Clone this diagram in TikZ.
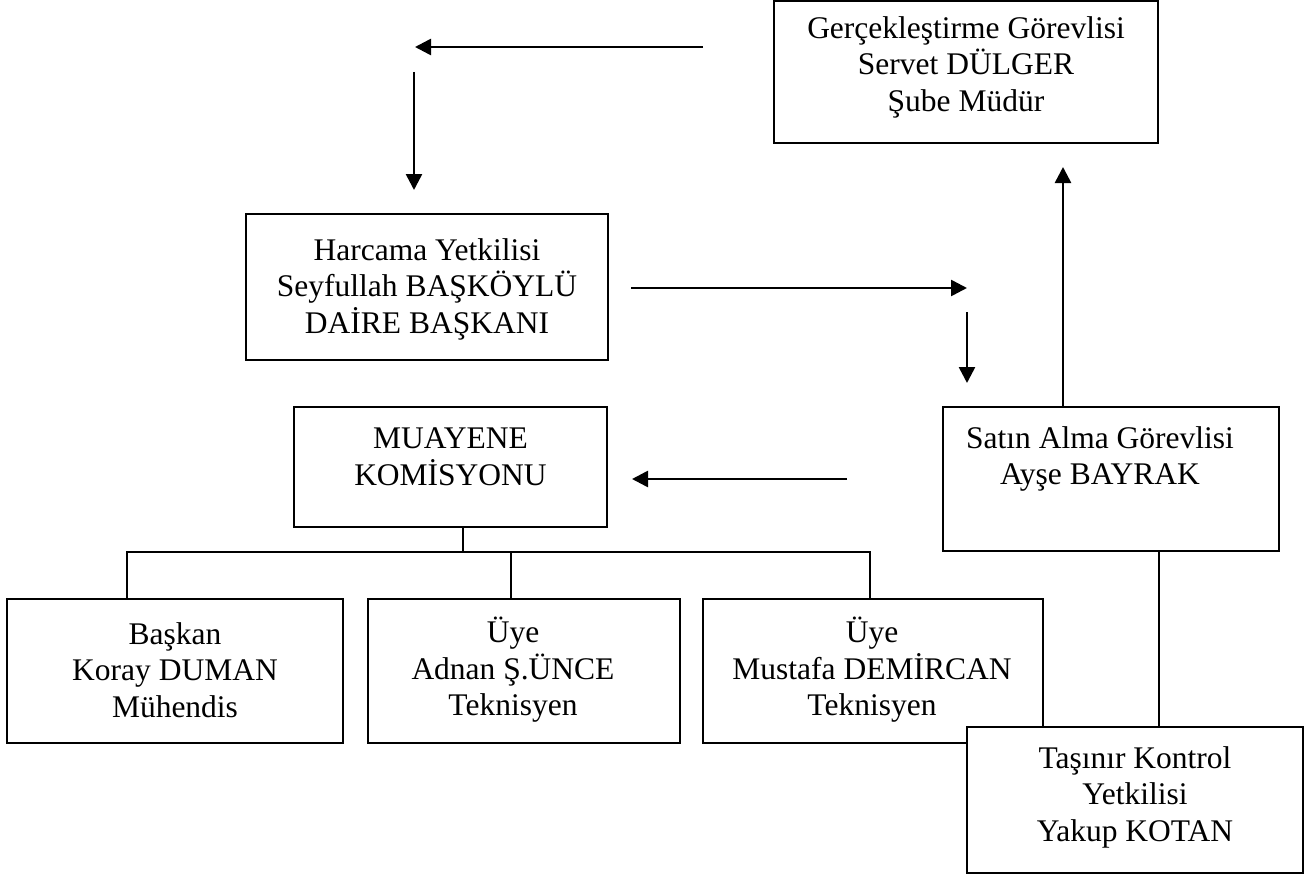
\documentclass[tikz,border=0pt]{standalone}
\usepackage{fontspec}
\setmainfont{Liberation Serif}
\usetikzlibrary{arrows.meta}
\tikzset{
  boxnode/.style={draw=black, line width=2.3pt, rectangle, inner sep=0pt},
  txt/.style={align=center, inner sep=0pt, font=\fontsize{31.5}{36.5}\selectfont},
  conn/.style={line width=2.3pt},
  arr/.style={line width=2.6pt, -{Triangle[length=16pt,width=16pt]}}
}
\begin{document}
\begin{tikzpicture}[x=1pt,y=-1pt]
\useasboundingbox (0,0) rectangle (1310,875);
% boxes
\node[boxnode, minimum width=384pt, minimum height=142pt] (gerc) at (966,72) {};
\node[txt] (gerct) at (966,67) {Gerçekleştirme Görevlisi\\Servet DÜLGER\\Şube Müdür};
\node[boxnode, minimum width=362pt, minimum height=146pt] (harc) at (427,287) {};
\node[txt] (harct) at (427,289) {Harcama Yetkilisi\\Seyfullah BAŞKÖYLÜ\\DAİRE BAŞKANI};
\node[boxnode, minimum width=336pt, minimum height=144pt] (satin) at (1111,479) {};
\node[txt] (satint) at (1100,459) {Satın Alma Görevlisi\\Ayşe BAYRAK};
\node[boxnode, minimum width=313pt, minimum height=120pt] (muay) at (450.5,467) {};
\node[txt] (muayt) at (450.5,457) {MUAYENE\\KOMİSYONU};
\node[boxnode, minimum width=336pt, minimum height=144pt] (b1) at (175,671) {};
\node[txt] (b1t) at (175,670) {Başkan\\Koray DUMAN\\Mühendis};
\node[boxnode, minimum width=312pt, minimum height=144pt] (b2) at (524,671) {};
\node[txt] (b2t) at (513,670) {Üye\\Adnan Ş.ÜNCE\\Teknisyen};
\node[boxnode, minimum width=340pt, minimum height=144pt] (b3) at (873,671) {};
\node[txt] (b3t) at (872,670) {Üye\\Mustafa DEMİRCAN\\Teknisyen};
\node[boxnode, minimum width=336pt, minimum height=146pt, fill=white] (tas) at (1135,800) {};
\node[txt] (tast) at (1135,797) {Taşınır Kontrol\\Yetkilisi\\Yakup KOTAN};
% free arrow ends
\coordinate (a1s) at (703,47);
\coordinate (a1e) at (415,47);
\coordinate (a2s) at (414,72);
\coordinate (a2e) at (414,190);
\coordinate (a3s) at (631,288);
\coordinate (a3e) at (967,288);
\coordinate (a4s) at (967,312);
\coordinate (a4e) at (967,383);
\coordinate (a5e) at (1063,167);
\coordinate (a6s) at (847,479);
\coordinate (a6e) at (632,479);
\draw[arr] (a1s) -- (a1e);
\draw[arr] (a2s) -- (a2e);
\draw[arr] (a3s) -- (a3e);
\draw[arr] (a4s) -- (a4e);
\draw[arr] (satin.north -| a5e) -- (a5e);
\draw[arr] (a6s) -- (a6e);
% tree
\coordinate (bus) at (463,552);
\draw[conn] (muay.south -| bus) -- (bus);
\draw[conn] (b1.north -| 127,0) -- (127,552) -- (870,552) -- (b3.north -| 870,0);
\draw[conn] (511,552) -- (b2.north -| 511,0);
\draw[conn] (satin.south -| 1159,0) -- (tas.north -| 1159,0);
\end{tikzpicture}
\end{document}
